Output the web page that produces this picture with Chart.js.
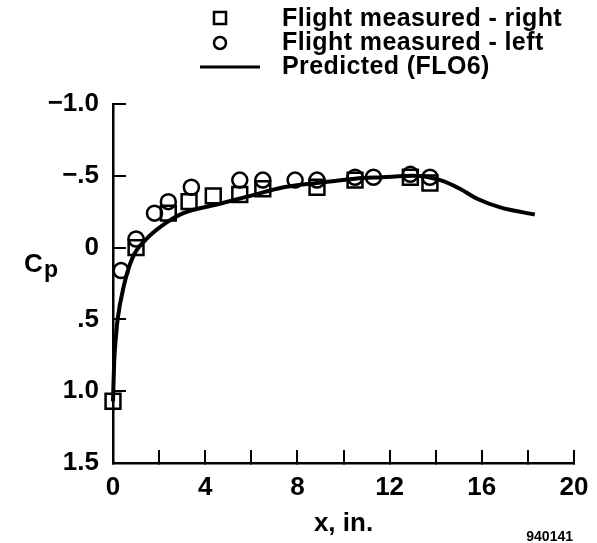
<!DOCTYPE html>
<html>
<head>
<meta charset="utf-8">
<script src="https://cdn.jsdelivr.net/npm/chart.js@4/dist/chart.umd.min.js"></script>
<style>
  html, body { margin: 0; padding: 0; background: #fff; }
  #wrap { width: 597px; height: 543px; }
</style>
</head>
<body>
<div id="wrap"><canvas id="cp"></canvas></div>
<script>
// --- data ---
const rightX  = [0, 1.0, 2.4, 3.3, 4.35, 5.5, 6.5, 8.85, 10.5, 12.9, 13.75];
const rightCp = [1.07, 0.0, -0.24, -0.32, -0.36, -0.37, -0.41, -0.42, -0.47, -0.49, -0.45];

const leftX  = [0.35, 1.0, 1.8, 2.4, 3.4, 5.5, 6.5, 7.9, 8.85, 10.5, 11.3, 12.9, 13.75];
const leftCp = [0.16, -0.06, -0.24, -0.32, -0.42, -0.47, -0.47, -0.47, -0.47, -0.49, -0.49, -0.51, -0.49];

const predX  = [0, 0.05, 0.15, 0.2, 0.45, 0.85, 1.45, 2.1, 3.05, 4.5, 5.95, 7.4, 8.85, 10.5, 11.7, 13.0, 14.2, 15.05, 15.8, 16.8, 18.3];
const predCp = [1.07, 0.8, 0.58, 0.5, 0.28, 0.07, -0.06, -0.15, -0.24, -0.30, -0.36, -0.42, -0.45, -0.48, -0.49, -0.50, -0.47, -0.41, -0.34, -0.28, -0.23];

const yTickValues = [-1, -0.5, 0, 0.5, 1, 1.5];
const yTickLabels = ['\u22121.0', '\u2212.5', '0', '.5', '1.0', '1.5'];
const xTickLabels = ['0', '4', '8', '12', '16', '20'];

const legendLabels = ['Flight measured - right', 'Flight measured - left', 'Predicted (FLO6)'];

const FONT = "'Liberation Sans', Arial, Helvetica, sans-serif";
const toPts = (xs, ys) => xs.map((x, i) => ({ x: x, y: ys[i] }));

// legend, C_p label and figure number drawn straight on the canvas
const extras = {
    id: 'extras',
    afterDraw(chart) {
        const c = chart.ctx;
        c.save();
        c.fillStyle = '#000';
        c.strokeStyle = '#000';
        c.font = 'bold 25px ' + FONT;
        c.textBaseline = 'middle';
        c.textAlign = 'left';

        // legend
        c.lineWidth = 2.5;
        c.strokeRect(214, 12, 12, 12);
        c.beginPath();
        c.arc(220, 43, 6, 0, Math.PI * 2);
        c.stroke();
        c.lineWidth = 3;
        c.beginPath();
        c.moveTo(200, 67);
        c.lineTo(260, 67);
        c.stroke();
        c.letterSpacing = '0.4px';
        legendLabels.forEach((t, i) => c.fillText(t, 282, 19 + i * 24));
        c.letterSpacing = '0px';

        // C_p
        c.font = 'bold 26px ' + FONT;
        c.fillText('C', 24, 265);
        c.font = 'bold 23px ' + FONT;
        c.fillText('p', 44, 271);

        // figure number
        c.font = 'bold 14px ' + FONT;
        c.textAlign = 'right';
        c.fillText('940141', 573, 537);
        c.restore();
    }
};

new Chart(document.getElementById('cp'), {
    type: 'scatter',
    data: {
        datasets: [
            {
                label: legendLabels[2],
                type: 'line',
                data: toPts(predX, predCp),
                borderColor: '#000',
                borderWidth: 4,
                pointRadius: 0,
                fill: false,
                cubicInterpolationMode: 'monotone',
                clip: false
            },
            {
                label: legendLabels[0],
                data: toPts(rightX, rightCp),
                pointStyle: 'rect',
                pointRadius: 10.5,
                borderColor: '#000',
                borderWidth: 2.5,
                backgroundColor: 'rgba(0,0,0,0)',
                clip: false
            },
            {
                label: legendLabels[1],
                data: toPts(leftX, leftCp),
                pointStyle: 'circle',
                pointRadius: 7.5,
                borderColor: '#000',
                borderWidth: 2.5,
                backgroundColor: 'rgba(0,0,0,0)',
                clip: false
            }
        ]
    },
    options: {
        responsive: true,
        maintainAspectRatio: false,
        animation: false,
        events: [],
        layout: { padding: { left: 0, top: 104, right: 23, bottom: 0 } },
        plugins: { legend: { display: false }, tooltip: { enabled: false } },
        scales: {
            x: {
                type: 'linear',
                min: 0, max: 20,
                ticks: {
                    stepSize: 2,
                    color: '#000',
                    font: { family: FONT, size: 26, weight: 'bold' },
                    padding: 22,
                    maxRotation: 0,
                    autoSkip: false,
                    callback: v => (v % 4 === 0 ? xTickLabels[v / 4] : '')
                },
                grid: { drawOnChartArea: false, color: '#000', lineWidth: 2, tickLength: -13 },
                border: { color: '#000', width: 2.5 },
                title: {
                    display: true,
                    text: 'x, in.',
                    color: '#000',
                    font: { family: FONT, size: 26, weight: 'bold' },
                    padding: { top: 0, bottom: 4 }
                },
                afterFit(s) { s.height = 80; s.paddingLeft = 0; s.paddingRight = 0; }
            },
            y: {
                type: 'linear',
                reverse: true,
                min: -1, max: 1.5,
                afterBuildTicks(s) { s.ticks = yTickValues.map(v => ({ value: v })); },
                ticks: {
                    color: '#000',
                    font: { family: FONT, size: 26, weight: 'bold' },
                    padding: 27,
                    callback: v => yTickLabels[yTickValues.indexOf(v)]
                },
                grid: { drawOnChartArea: false, color: '#000', lineWidth: 2, tickLength: -13 },
                border: { color: '#000', width: 2.5 },
                afterFit(s) { s.width = 113; s.paddingTop = 0; s.paddingBottom = 0; }
            }
        }
    },
    plugins: [extras]
});
</script>
</body>
</html>
